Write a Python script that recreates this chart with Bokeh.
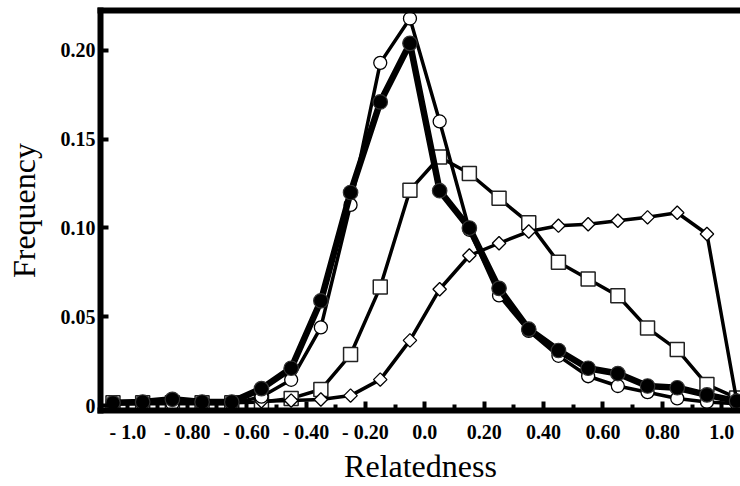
import math
from bokeh.plotting import figure
from bokeh.models import Range1d, FixedTicker, LinearAxis
from bokeh.embed import file_html
from bokeh.resources import INLINE

# Relatedness bin centres
x_all = [-1.05, -0.95, -0.85, -0.75, -0.65, -0.55, -0.45, -0.35, -0.25, -0.15, -0.05,
         0.05, 0.15, 0.25, 0.35, 0.45, 0.55, 0.65, 0.75, 0.85, 0.95, 1.05]
x_diam = [-0.55, -0.45, -0.35, -0.25, -0.15, -0.05,
          0.05, 0.15, 0.25, 0.35, 0.45, 0.55, 0.65, 0.75, 0.85, 0.95, 1.05]

filled_circles = [0.0015, 0.002, 0.0035, 0.002, 0.002, 0.0095, 0.021, 0.059, 0.120, 0.171, 0.204,
                  0.121, 0.100, 0.066, 0.043, 0.031, 0.021, 0.018, 0.011, 0.010, 0.006, 0.0025]
open_circles = [0.001, 0.001, 0.001, 0.001, 0.001, 0.005, 0.0145, 0.044, 0.113, 0.193, 0.218,
                0.160, 0.099, 0.062, 0.042, 0.028, 0.0165, 0.011, 0.0075, 0.004, 0.002, 0.001]
squares = [0.0015, 0.0015, 0.0015, 0.0015, 0.0015, 0.002, 0.004, 0.009, 0.0287, 0.0667, 0.1213,
           0.140, 0.1307, 0.1167, 0.103, 0.0807, 0.0713, 0.0618, 0.0436, 0.0315, 0.0118, 0.0043]
diamonds = [0.0024, 0.0028, 0.0034, 0.0056, 0.0146, 0.0367,
            0.0655, 0.0845, 0.0914, 0.098, 0.1013, 0.1021, 0.1041, 0.106, 0.1086, 0.0966, 0.003]

x_ticks = [-1.0, -0.8, -0.6, -0.4, -0.2, 0.0, 0.2, 0.4, 0.6, 0.8, 1.0]
x_tick_labels = ["- 1.0", "- 0.80", "- 0.60", "- 0.40", "- 0.20", "0.0", "0.20", "0.40", "0.60", "0.80", "1.0"]
x_minor = [-0.9, -0.7, -0.5, -0.3, -0.1, 0.1, 0.3, 0.5, 0.7, 0.9]
y_ticks = [0.0, 0.05, 0.1, 0.15, 0.2]
y_tick_labels = ["0", "0.05", "0.10", "0.15", "0.20"]

FONT = "Liberation Serif"

p = figure(width=740, height=486, output_backend="svg", toolbar_location=None,
           x_range=Range1d(-1.092, 1.063), y_range=Range1d(-0.0028, 0.2225),
           min_border_left=100, min_border_right=0, min_border_top=10, min_border_bottom=75)
p.grid.visible = False
p.outline_line_color = None

xa = p.xaxis[0]
xa.ticker = FixedTicker(ticks=x_ticks, minor_ticks=x_minor)
xa.major_label_overrides = {t: l for t, l in zip(x_ticks, x_tick_labels)}
xa.axis_label = "Relatedness"

ya = p.yaxis[0]
ya.ticker = FixedTicker(ticks=y_ticks, minor_ticks=[])
ya.major_label_overrides = {t: l for t, l in zip(y_ticks, y_tick_labels)}
ya.axis_label = "Frequency"

for ax in (xa, ya):
    ax.axis_line_width = 6
    ax.axis_line_cap = "square"
    ax.major_tick_out = 0
    ax.major_tick_line_width = 4
    ax.minor_tick_out = 0
    ax.minor_tick_line_width = 4
    ax.major_label_text_font = FONT
    ax.major_label_text_font_style = "bold"
    ax.major_label_text_font_size = "20px"
    ax.major_label_text_color = "black"
    ax.axis_label_text_font = FONT
    ax.axis_label_text_font_style = "normal"
    ax.axis_label_text_font_size = "32px"
    ax.axis_label_text_color = "black"

xa.major_tick_in = 9
xa.minor_tick_in = 6
xa.major_label_standoff = 10
xa.axis_label_standoff = 2
ya.major_tick_in = 8
ya.major_label_standoff = 5
ya.axis_label_standoff = 16

top = LinearAxis(ticker=FixedTicker(ticks=[]), axis_line_width=6, axis_line_cap="square",
                 major_tick_line_color=None, minor_tick_line_color=None,
                 major_label_text_font_size="0px")
p.add_layout(top, "above")

# squares
p.line(x_all, squares, line_width=3.5, line_color="black")
p.scatter(x_all, squares, marker="square", size=14, fill_color="white",
          line_color="#222222", line_width=1.5)
# diamonds
p.line(x_diam, diamonds, line_width=3.5, line_color="black")
p.scatter(x_diam, diamonds, marker="square", angle=math.pi / 4, size=9.5,
          fill_color="white", line_color="black", line_width=1.3)
# open circles
p.line(x_all, open_circles, line_width=3.5, line_color="black")
p.scatter(x_all, open_circles, marker="circle", size=13, fill_color="white",
          line_color="black", line_width=1.3)
# filled circles
p.line(x_all, filled_circles, line_width=6.5, line_color="black")
p.scatter(x_all, filled_circles, marker="circle", size=14.5, fill_color="black",
          line_color="#333333", line_width=1.2)

open("out.html", "w").write(file_html(p, INLINE))
